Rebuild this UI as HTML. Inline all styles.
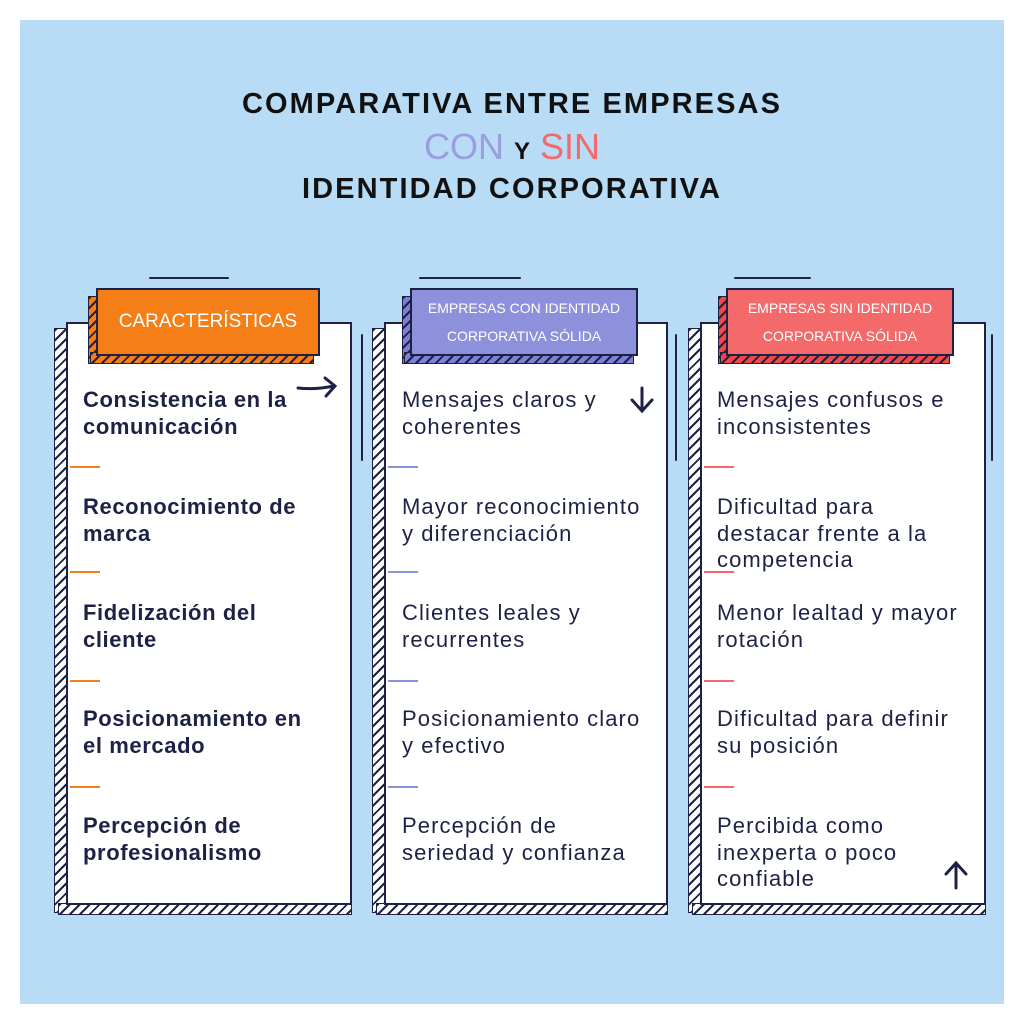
<!DOCTYPE html>
<html><head><meta charset="utf-8"><style>
body{margin:0;width:1024px;height:1024px;background:#fff;position:relative;overflow:hidden;font-family:"Liberation Sans",sans-serif;color:#1d2145}
.bg{position:absolute;left:20px;top:20px;width:984px;height:984px;background:#b8dcf6}
.t{position:absolute;left:0;width:1024px;text-align:center;font-weight:bold;font-size:29px;letter-spacing:2.1px;color:#111}
.card{position:absolute;top:322px;height:583px;background:#fff;border:2px solid #1d2145;box-sizing:border-box}
.hatch{position:absolute;background:repeating-linear-gradient(135deg,#1d2145 0 2px,#fff 2px 7px);border:1px solid #1d2145;box-sizing:border-box}
.hd{position:absolute;top:288px;height:68px;border:2px solid #1d2145;box-sizing:border-box;color:#fff;text-align:center;font-family:"Liberation Sans",sans-serif;display:flex;align-items:center;justify-content:center;line-height:28px;white-space:nowrap}
.tx{position:absolute;font-size:22px;line-height:26.5px;letter-spacing:1.1px;white-space:nowrap}
.b{font-weight:bold;letter-spacing:0.6px}
.sep{position:absolute;height:2px;width:30px}
</style></head><body>
<div class="bg"></div>
<div class="t" style="top:88px">COMPARATIVA ENTRE EMPRESAS</div>
<div class="t" style="top:126px;font-weight:normal;font-size:36px;letter-spacing:0"><span style="color:#9a9ee0">CON</span> <span style="color:#111;font-weight:bold;font-size:24px">Y</span> <span style="color:#f26a6a">SIN</span></div>
<div class="t" style="top:173px">IDENTIDAD CORPORATIVA</div>

<div class="hatch" style="left:54px;top:328px;width:14px;height:585px"></div>
<div class="hatch" style="left:58px;top:903px;width:294px;height:12px"></div>
<div class="card" style="left:66px;width:286px"></div>
<div class="hatch" style="left:88px;top:296px;width:12px;height:68px;background:repeating-linear-gradient(135deg,#1d2145 0 2px,#f57f16 2px 7px)"></div>
<div class="hatch" style="left:90px;top:352px;width:224px;height:12px;background:repeating-linear-gradient(135deg,#1d2145 0 2px,#f57f16 2px 7px)"></div>
<div class="hd" style="left:96px;width:224px;background:#f57f16;font-size:19px">CARACTERÍSTICAS</div>

<div class="hatch" style="left:372px;top:328px;width:14px;height:585px"></div>
<div class="hatch" style="left:376px;top:903px;width:292px;height:12px"></div>
<div class="card" style="left:384px;width:284px"></div>
<div class="hatch" style="left:402px;top:296px;width:12px;height:68px;background:repeating-linear-gradient(135deg,#1d2145 0 2px,#7d80d4 2px 7px)"></div>
<div class="hatch" style="left:404px;top:352px;width:230px;height:12px;background:repeating-linear-gradient(135deg,#1d2145 0 2px,#7d80d4 2px 7px)"></div>
<div class="hd" style="left:410px;width:228px;background:#8d91dc;font-size:14px">EMPRESAS CON IDENTIDAD<br>CORPORATIVA SÓLIDA</div>

<div class="hatch" style="left:688px;top:328px;width:14px;height:585px"></div>
<div class="hatch" style="left:692px;top:903px;width:294px;height:12px"></div>
<div class="card" style="left:700px;width:286px"></div>
<div class="hatch" style="left:718px;top:296px;width:12px;height:68px;background:repeating-linear-gradient(135deg,#1d2145 0 2px,#ee4a4a 2px 7px)"></div>
<div class="hatch" style="left:720px;top:352px;width:230px;height:12px;background:repeating-linear-gradient(135deg,#1d2145 0 2px,#ee4a4a 2px 7px)"></div>
<div class="hd" style="left:726px;width:228px;background:#f46a6a;font-size:14px">EMPRESAS SIN IDENTIDAD<br>CORPORATIVA SÓLIDA</div>

<div class="tx b" style="left:83px;top:387px">Consistencia en la<br>comunicación</div>
<div class="tx b" style="left:83px;top:494px">Reconocimiento de<br>marca</div>
<div class="tx b" style="left:83px;top:600px">Fidelización del<br>cliente</div>
<div class="tx b" style="left:83px;top:706px">Posicionamiento en<br>el mercado</div>
<div class="tx b" style="left:83px;top:813px">Percepción de<br>profesionalismo</div>
<div class="tx" style="left:402px;top:387px">Mensajes claros y<br>coherentes</div>
<div class="tx" style="left:402px;top:494px">Mayor reconocimiento<br>y diferenciación</div>
<div class="tx" style="left:402px;top:600px">Clientes leales y<br>recurrentes</div>
<div class="tx" style="left:402px;top:706px">Posicionamiento claro<br>y efectivo</div>
<div class="tx" style="left:402px;top:813px">Percepción de<br>seriedad y confianza</div>
<div class="tx" style="left:717px;top:387px">Mensajes confusos e<br>inconsistentes</div>
<div class="tx" style="left:717px;top:494px">Dificultad para<br>destacar frente a la<br>competencia</div>
<div class="tx" style="left:717px;top:600px">Menor lealtad y mayor<br>rotación</div>
<div class="tx" style="left:717px;top:706px">Dificultad para definir<br>su posición</div>
<div class="tx" style="left:717px;top:813px">Percibida como<br>inexperta o poco<br>confiable</div>

<div class="sep" style="left:70px;top:466px;background:#f57f16"></div>
<div class="sep" style="left:70px;top:571px;background:#f57f16"></div>
<div class="sep" style="left:70px;top:680px;background:#f57f16"></div>
<div class="sep" style="left:70px;top:786px;background:#f57f16"></div>
<div class="sep" style="left:388px;top:466px;background:#8d91dc"></div>
<div class="sep" style="left:388px;top:571px;background:#8d91dc"></div>
<div class="sep" style="left:388px;top:680px;background:#8d91dc"></div>
<div class="sep" style="left:388px;top:786px;background:#8d91dc"></div>
<div class="sep" style="left:704px;top:466px;background:#f46a6a"></div>
<div class="sep" style="left:704px;top:571px;background:#f46a6a"></div>
<div class="sep" style="left:704px;top:680px;background:#f46a6a"></div>
<div class="sep" style="left:704px;top:786px;background:#f46a6a"></div>

<svg style="position:absolute;left:0;top:0" width="1024" height="1024" fill="none" stroke="#1d2145" stroke-width="3" stroke-linecap="round">
<path d="M298 388 Q315 390 334 386 M325 378 L335 386 L326 396"/>
<path d="M642 388 L642 410 M632 400 L642 411 L652 400"/>
<path d="M956 888 L956 864 M946 874 L956 863 L966 874"/>
<path d="M150 278 L228 278 M420 278 L520 278 M735 278 L810 278" stroke-width="2"/>
<path d="M362 335 L362 460 M676 335 L676 460 M992 335 L992 460" stroke-width="2"/>
</svg>
</body></html>
